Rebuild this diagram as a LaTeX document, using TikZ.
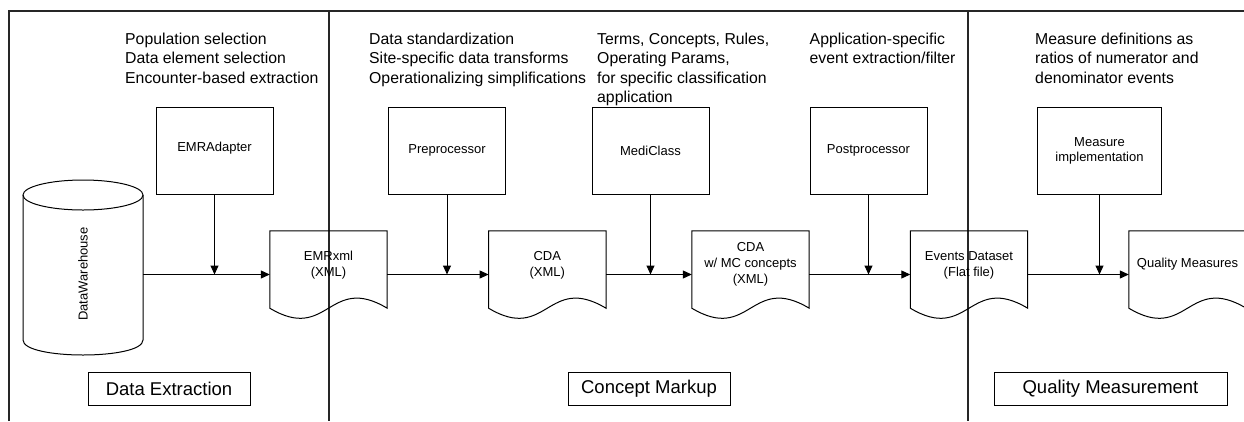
\documentclass[tikz,border=0pt]{standalone}
\usepackage{fontspec}
\setmainfont{Liberation Sans}
\usetikzlibrary{arrows.meta,calc}
\tikzset{
  ln/.style={line width=1pt, draw=black},
  divider/.style={line width=1.2pt, draw=black!85},
  arr/.style={ln, -{Triangle[length=9pt,width=8pt]}},
  procbox/.style={draw, line width=1pt, minimum width=117pt, minimum height=87pt, inner sep=0pt, align=center, font=\fontsize{13}{15}\selectfont},
  docnode/.style={minimum width=117pt, minimum height=87pt, inner sep=0pt},
  doctext/.style={align=center, inner sep=0pt, font=\fontsize{13}{16}\selectfont},
  note/.style={anchor=north west, align=left, inner sep=0pt, font=\fontsize{15.8}{19.5}\selectfont},
  phase/.style={draw, line width=1pt, minimum height=33pt, inner sep=0pt, font=\fontsize{18.5}{20}\selectfont}
}
\newcommand{\docshape}[1]{%
  \draw[ln] (#1.north west) -- (#1.north east) -- ([yshift=10pt]#1.south east)
    .. controls ([xshift=-58.5pt,yshift=45pt]#1.south east) and ([xshift=58.5pt,yshift=-25pt]#1.south west) ..
    ([yshift=10pt]#1.south west) -- cycle;}
\begin{document}
\begin{tikzpicture}[x=1pt,y=-1pt]
\useasboundingbox (0,0) rectangle (1244,421);
\clip (0,0) rectangle (1244,421);
% frame and dividers
\draw[divider] (9,421) -- (9,11) -- (1244,11);
\draw[divider] (329,11) -- (329,421);
\draw[divider] (968,11) -- (968,421);

% notes
\node[note] (n1) at (125,32.5) {Population selection\\Data element selection\\Encounter-based extraction};
\node[note] (n2) at (369,32.5) {Data standardization\\Site-specific data transforms\\Operationalizing simplifications};
\node[note] (n3) at (597,32.5) {Terms, Concepts, Rules,\\Operating Params,\\for specific classification\\application};
\node[note] (n4) at (809.5,32.5) {Application-specific\\event extraction/filter};
\node[note] (n5) at (1035,32.5) {Measure definitions as\\ratios of numerator and\\denominator events};

% process boxes
\node[procbox] (ad) at (214.5,150.5) {\raisebox{7pt}{EMRAdapter}};
\node[procbox] (pre) at (447,150.5) {Preprocessor};
\node[procbox] (mc) at (650.5,150.5) {MediClass};
\node[procbox] (post) at (868.5,150.5) {Postprocessor};
\node[procbox, minimum width=124pt] (meas) at (1099.5,150.5) {Measure\\implementation};

% cylinder
\node[minimum width=120pt, minimum height=175pt, inner sep=0pt] (dw) at (83,267.5) {};
\draw[ln] (83,195) ellipse [x radius=60pt, y radius=15pt];
\draw[ln] (23,195) -- (23,340) .. controls (23,360) and (143,360) .. (143,340) -- (143,195);
\node[rotate=90, inner sep=0pt, font=\fontsize{13}{15}\selectfont] (dwtext) at (83,274) {DataWarehouse};

% documents
\node[docnode] (emr) at (328.5,274.5) {};
\node[docnode] (cda) at (547.3,274.5) {};
\node[docnode] (cdamc) at (750.5,274.5) {};
\node[docnode] (ev) at (969,274.5) {};
\node[docnode] (qm) at (1187.5,274.5) {};
\docshape{emr}
\docshape{cda}
\docshape{cdamc}
\docshape{ev}
\docshape{qm}
\node[doctext] (emrt) at (328.5,265) {EMRxml\\(XML)};
\node[doctext] (cdat) at (547.3,265) {CDA\\(XML)};
\node[doctext] (cdamct) at (750.5,264) {CDA\\w/ MC concepts\\(XML)};
\node[doctext] (evt) at (969,265) {Events Dataset\\(Flat file)};
\node[doctext] (qmt) at (1187.5,264) {Quality Measures};

% main flow
\draw[arr] (dw.east |- emr.west) -- (emr.west);
\draw[arr] (emr.east) -- (cda.west);
\draw[arr] (cda.east) -- (cdamc.west);
\draw[arr] (cdamc.east) -- (ev.west);
\draw[arr] (ev.east) -- (qm.west);

% junctions
\coordinate (j1) at (ad.south |- emr.west);
\coordinate (j2) at (pre.south |- emr.west);
\coordinate (j3) at (mc.south |- emr.west);
\coordinate (j4) at (post.south |- emr.west);
\coordinate (j5) at (meas.south |- emr.west);
\draw[arr] (ad.south) -- (j1);
\draw[arr] (pre.south) -- (j2);
\draw[arr] (mc.south) -- (j3);
\draw[arr] (post.south) -- (j4);
\draw[arr] (meas.south) -- (j5);

% phase labels
\node[phase, minimum width=162pt] (p1) at (169,388.5) {Data Extraction};
\node[phase, minimum width=162pt] (p2) at (649,388.5) {Concept Markup};
\node[phase, minimum width=233pt] (p3) at (1110.5,388.5) {Quality Measurement};
\end{tikzpicture}
\end{document}
